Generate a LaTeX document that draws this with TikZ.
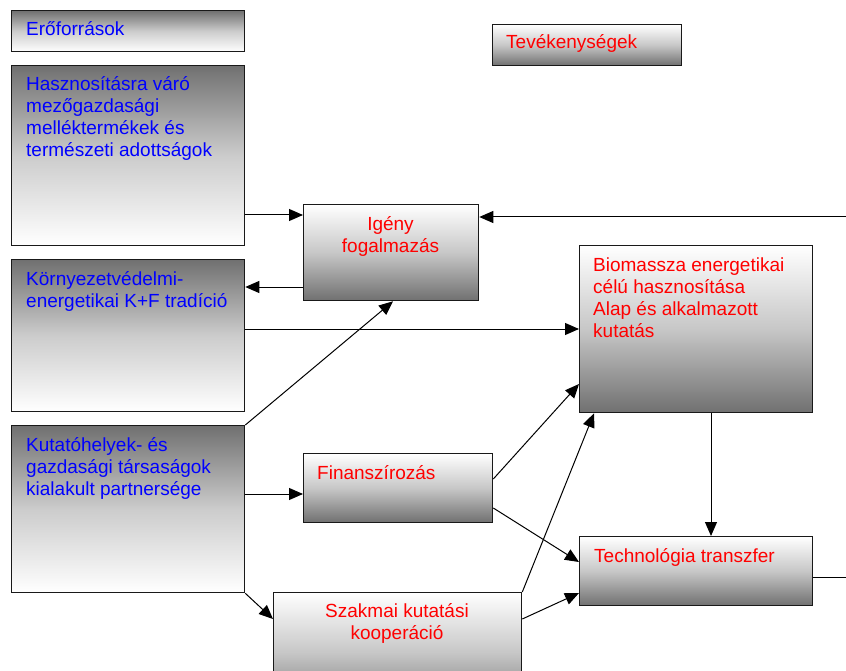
\documentclass[tikz,border=0pt]{standalone}
\usepackage{fontspec}
\setmainfont{Liberation Sans}
\usetikzlibrary{arrows.meta}
\definecolor{boxgray}{RGB}{112,112,112}
\tikzset{
	resbox/.style={draw=black!90, line width=1.3pt, inner sep=0pt, anchor=north west, top color=boxgray, bottom color=white, middle color=black!20},
	actbox/.style={draw=black!90, line width=1.3pt, inner sep=0pt, anchor=north west, top color=white, bottom color=boxgray, middle color=black!22},
	restext/.style={text=blue, inner sep=0pt, anchor=base west, align=left, font=\fontsize{19}{22}\selectfont},
	acttext/.style={text=red, inner sep=0pt, anchor=base west, align=left, font=\fontsize{19}{22}\selectfont},
	arr/.style={line width=1pt, -{Triangle[length=14pt,width=12pt]}}
}

\begin{document}
\begin{tikzpicture}[x=1pt, y=-1pt]
		%%%%% START %%%%%
		\clip (0, 0) rectangle (846, 671);
		
		% eroforrasok
		\node[resbox, minimum width=233, minimum height=41] (erof) at (11, 10) {};
		\node[resbox, minimum width=233, minimum height=180] (hasz) at (11, 65) {};
		\node[resbox, minimum width=233, minimum height=152] (korny) at (11, 259) {};
		\node[resbox, minimum width=233, minimum height=167] (kutato) at (11, 425) {};
		
		% (multi-line texts sit on the baseline of their last line)
		\node[restext] at (26, 36) {Erőforrások};
		\node[restext] at (26, 157) {Hasznosításra váró\\mezőgazdasági\\melléktermékek és\\természeti adottságok};
		\node[restext] at (26, 307) {Környezetvédelmi-\\energetikai K+F tradíció};
		\node[restext] at (26, 495) {Kutatóhelyek- és\\gazdasági társaságok\\kialakult partnersége};
		
		% tevekenysegek
		\node[actbox, minimum width=189, minimum height=41] (tevek) at (492, 24) {};
		\node[actbox, minimum width=175, minimum height=96] (igeny) at (303, 204) {};
		\node[actbox, minimum width=233, minimum height=167] (bio) at (579, 245) {};
		\node[actbox, minimum width=189, minimum height=69] (finansz) at (303, 453) {};
		\node[actbox, minimum width=248, minimum height=120] (szakmai) at (273, 592) {};
		\node[actbox, minimum width=233, minimum height=69] (techno) at (579, 536) {};
		
		\node[acttext] at (506, 49) {Tevékenységek};
		\node[acttext, anchor=base, align=center] at (390.5, 252) {Igény\\fogalmazás};
		\node[acttext] at (593, 337) {Biomassza energetikai\\célú hasznosítása\\Alap és alkalmazott\\kutatás};
		\node[acttext] at (317, 479) {Finanszírozás};
		\node[acttext, anchor=base, align=center] at (397, 639) {Szakmai kutatási\\kooperáció};
		\node[acttext] at (594, 562) {Technológia transzfer};
		
		% free ends at the right edge
		\coordinate (rin) at (846, 217);
		\coordinate (rout) at (846, 577);
		
		% connectors
		\draw[arr] (hasz.east |- 0,215) -- (igeny.west |- 0,215);
		\draw[arr] (rin) -- (igeny.east |- rin);
		\draw[arr] (igeny.west |- 0,287) -- (korny.east |- 0,287);
		\draw[arr] (korny.east |- 0,329) -- (bio.west |- 0,329);
		\draw[arr] (kutato.north east) -- (393,0 |- igeny.south);
		\draw[arr] (kutato.east |- 0,494) -- (finansz.west |- 0,494);
		\draw[arr] (kutato.south east) -- (szakmai.west |- 0,619);
		\draw[arr] (finansz.east |- 0,479) -- (bio.west |- 0,384);
		\draw[arr] (finansz.east |- 0,508) -- (techno.west |- 0,562);
		\draw[arr] (szakmai.north east) -- (594,0 |- bio.south);
		\draw[arr] (szakmai.east |- 0,619) -- (techno.west |- 0,593);
		\draw[arr] (711,0 |- bio.south) -- (711,0 |- techno.north);
		\draw[line width=1pt] (techno.east |- rout) -- (rout);
		
		%%%%% END %%%%%
\end{tikzpicture}
\end{document}
